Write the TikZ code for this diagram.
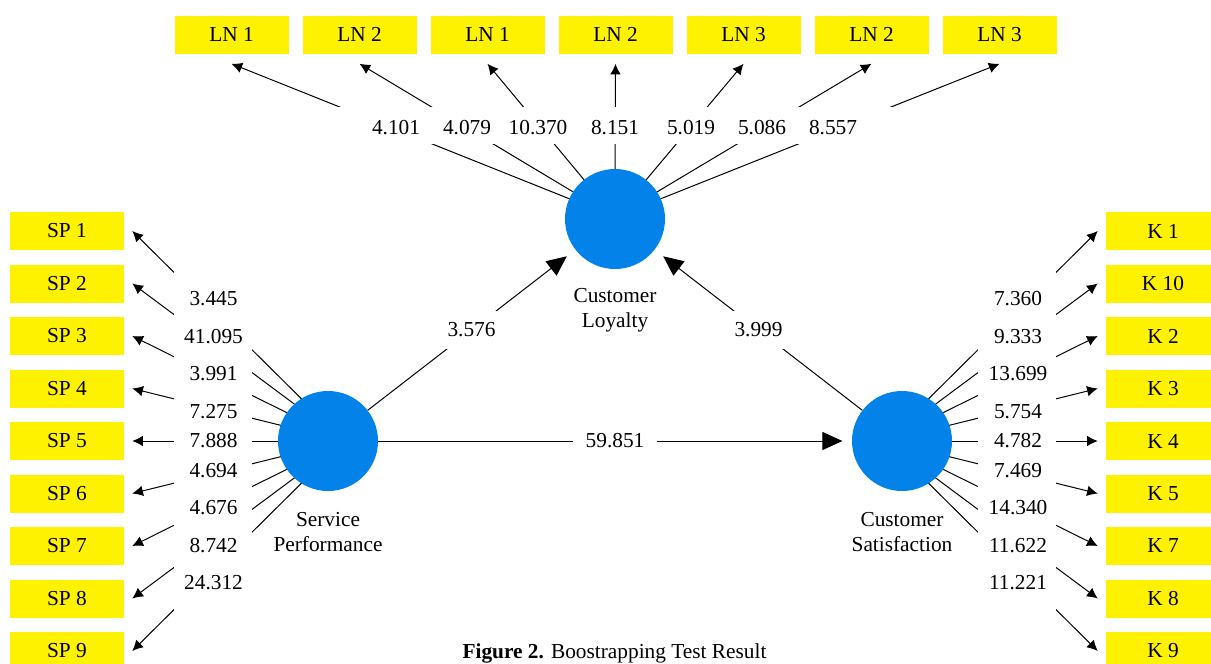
\documentclass[tikz,border=0pt]{standalone}
\usepackage{fontspec}
\setmainfont{Liberation Serif}
\usetikzlibrary{arrows.meta,positioning}
\definecolor{boxyellow}{RGB}{255,242,0}
\definecolor{lvblue}{RGB}{3,131,234}

\begin{document}
\begin{tikzpicture}[x=0.75pt, y=-0.75pt, node distance=39.375pt,
	font=\fontsize{16}{18.5}\selectfont,
	ind node/.style={rectangle,fill=boxyellow,minimum width=85.5pt,minimum height=28.5pt,inner sep=0pt},
	lv node/.style={circle,fill=lvblue,minimum size=75pt,inner sep=0pt},
	ind line/.style={line width=0.75pt,-{Latex[length=8pt,width=8pt]}},
	path line/.style={line width=0.75pt,-{Triangle[length=15pt,width=13.5pt]}},
	weight/.style={inner sep=0pt},
	coef/.style={fill=white,inner sep=0pt,minimum width=63pt,minimum height=28.5pt}]
	
	\useasboundingbox (0,0) rectangle (1211,664);
	
	% indicators of service performance
	\node[ind node] (SP1) at (67,231) {SP 1};
	\node[ind node] (SP2) [below of=SP1] {SP 2};
	\node[ind node] (SP3) [below of=SP2] {SP 3};
	\node[ind node] (SP4) [below of=SP3] {SP 4};
	\node[ind node] (SP5) [below of=SP4] {SP 5};
	\node[ind node] (SP6) [below of=SP5] {SP 6};
	\node[ind node] (SP7) [below of=SP6] {SP 7};
	\node[ind node] (SP8) [below of=SP7] {SP 8};
	\node[ind node] (SP9) [below of=SP8] {SP 9};
	
	% indicators of customer satisfaction
	\node[ind node] (K1) at (1163,231) {K 1};
	\node[ind node] (K10) [below of=K1] {K 10};
	\node[ind node] (K2) [below of=K10] {K 2};
	\node[ind node] (K3) [below of=K2] {K 3};
	\node[ind node] (K4) [below of=K3] {K 4};
	\node[ind node] (K5) [below of=K4] {K 5};
	\node[ind node] (K7) [below of=K5] {K 7};
	\node[ind node] (K8) [below of=K7] {K 8};
	\node[ind node] (K9) [below of=K8] {K 9};
	
	% indicators of customer loyalty
	\node[ind node] (LN1a) at (231.5,34.5) {LN 1};
	\node[ind node] (LN2a) [node distance=96pt, right of=LN1a] {LN 2};
	\node[ind node] (LN1b) [node distance=96pt, right of=LN2a] {LN 1};
	\node[ind node] (LN2b) [node distance=96pt, right of=LN1b] {LN 2};
	\node[ind node] (LN3a) [node distance=96pt, right of=LN2b] {LN 3};
	\node[ind node] (LN2c) [node distance=96pt, right of=LN3a] {LN 2};
	\node[ind node] (LN3b) [node distance=96pt, right of=LN2c] {LN 3};
	
	\coordinate (spo) at (344,441);
	\coordinate (cso) at (886,441);
	\coordinate (loo) at (615,217);
	
	\path[ind line]
	(spo)
	edge ([xshift=6pt]SP1.east)
	edge ([xshift=6pt]SP2.east)
	edge ([xshift=6pt]SP3.east)
	edge ([xshift=6pt]SP4.east)
	edge ([xshift=6pt]SP5.east)
	edge ([xshift=6pt]SP6.east)
	edge ([xshift=6pt]SP7.east)
	edge ([xshift=6pt]SP8.east)
	edge ([xshift=6pt]SP9.east)
	
	(cso)
	edge ([xshift=-6pt]K1.west)
	edge ([xshift=-6pt]K10.west)
	edge ([xshift=-6pt]K2.west)
	edge ([xshift=-6pt]K3.west)
	edge ([xshift=-6pt]K4.west)
	edge ([xshift=-6pt]K5.west)
	edge ([xshift=-6pt]K7.west)
	edge ([xshift=-6pt]K8.west)
	edge ([xshift=-6pt]K9.west)
	
	(loo)
	edge ([yshift=-7.5pt]LN1a.south)
	edge ([yshift=-7.5pt]LN2a.south)
	edge ([yshift=-7.5pt]LN1b.south)
	edge ([yshift=-7.5pt]LN2b.south)
	edge ([yshift=-7.5pt]LN3a.south)
	edge ([yshift=-7.5pt]LN2c.south)
	edge ([yshift=-7.5pt]LN3b.south)
	;
	
	% gaps for the outer weights
	\fill[white] (174,262) rectangle (252,622);
	\fill[white] (978,262) rectangle (1056,622);
	\fill[white] (330,107) rectangle (900,144);
	
	\node[weight] (wsp1) at (213.5,299) {3.445};
	\node[weight] (wsp2) at (213.5,336.5) {41.095};
	\node[weight] (wsp3) at (213.5,374) {3.991};
	\node[weight] (wsp4) at (213.5,411.5) {7.275};
	\node[weight] (wsp5) at (213.5,441) {7.888};
	\node[weight] (wsp6) at (213.5,470.5) {4.694};
	\node[weight] (wsp7) at (213.5,508) {4.676};
	\node[weight] (wsp8) at (213.5,545.5) {8.742};
	\node[weight] (wsp9) at (213.5,583) {24.312};
	
	\node[weight] (wk1) at (1018,299) {7.360};
	\node[weight] (wk10) at (1018,336.5) {9.333};
	\node[weight] (wk2) at (1018,374) {13.699};
	\node[weight] (wk3) at (1018,411.5) {5.754};
	\node[weight] (wk4) at (1018,441) {4.782};
	\node[weight] (wk5) at (1018,470.5) {7.469};
	\node[weight] (wk7) at (1018,508) {14.340};
	\node[weight] (wk8) at (1018,545.5) {11.622};
	\node[weight] (wk9) at (1018,583) {11.221};
	
	\node[weight] (wln1) at (396,127.5) {4.101};
	\node[weight] (wln2) at (467,127.5) {4.079};
	\node[weight] (wln3) at (538,127.5) {10.370};
	\node[weight] (wln4) at (615,127.5) {8.151};
	\node[weight] (wln5) at (691,127.5) {5.019};
	\node[weight] (wln6) at (762,127.5) {5.086};
	\node[weight] (wln7) at (833,127.5) {8.557};
	
	% latent variables
	\node[lv node, label={[align=center,label distance=12.5pt]below:Service\\Performance}] (sp) at (328,441) {};
	\node[lv node, label={[align=center,label distance=12.5pt]below:Customer\\Satisfaction}] (cs) at (902,441) {};
	\node[lv node, label={[align=center,label distance=11pt]below:Customer\\Loyalty}] (lo) at (615,219) {};
	
	\draw[path line, shorten >=8pt] (sp) -- node[coef] {3.576} (lo);
	\draw[path line, shorten >=7pt] (sp) -- node[coef] {59.851} (cs);
	\draw[path line, shorten >=8pt] (cs) -- node[coef] {3.999} (lo);
	
	\node[anchor=base] (cap) at (614.5,658) {\textbf{Figure 2.} Boostrapping Test Result};
	
\end{tikzpicture}
\end{document}
